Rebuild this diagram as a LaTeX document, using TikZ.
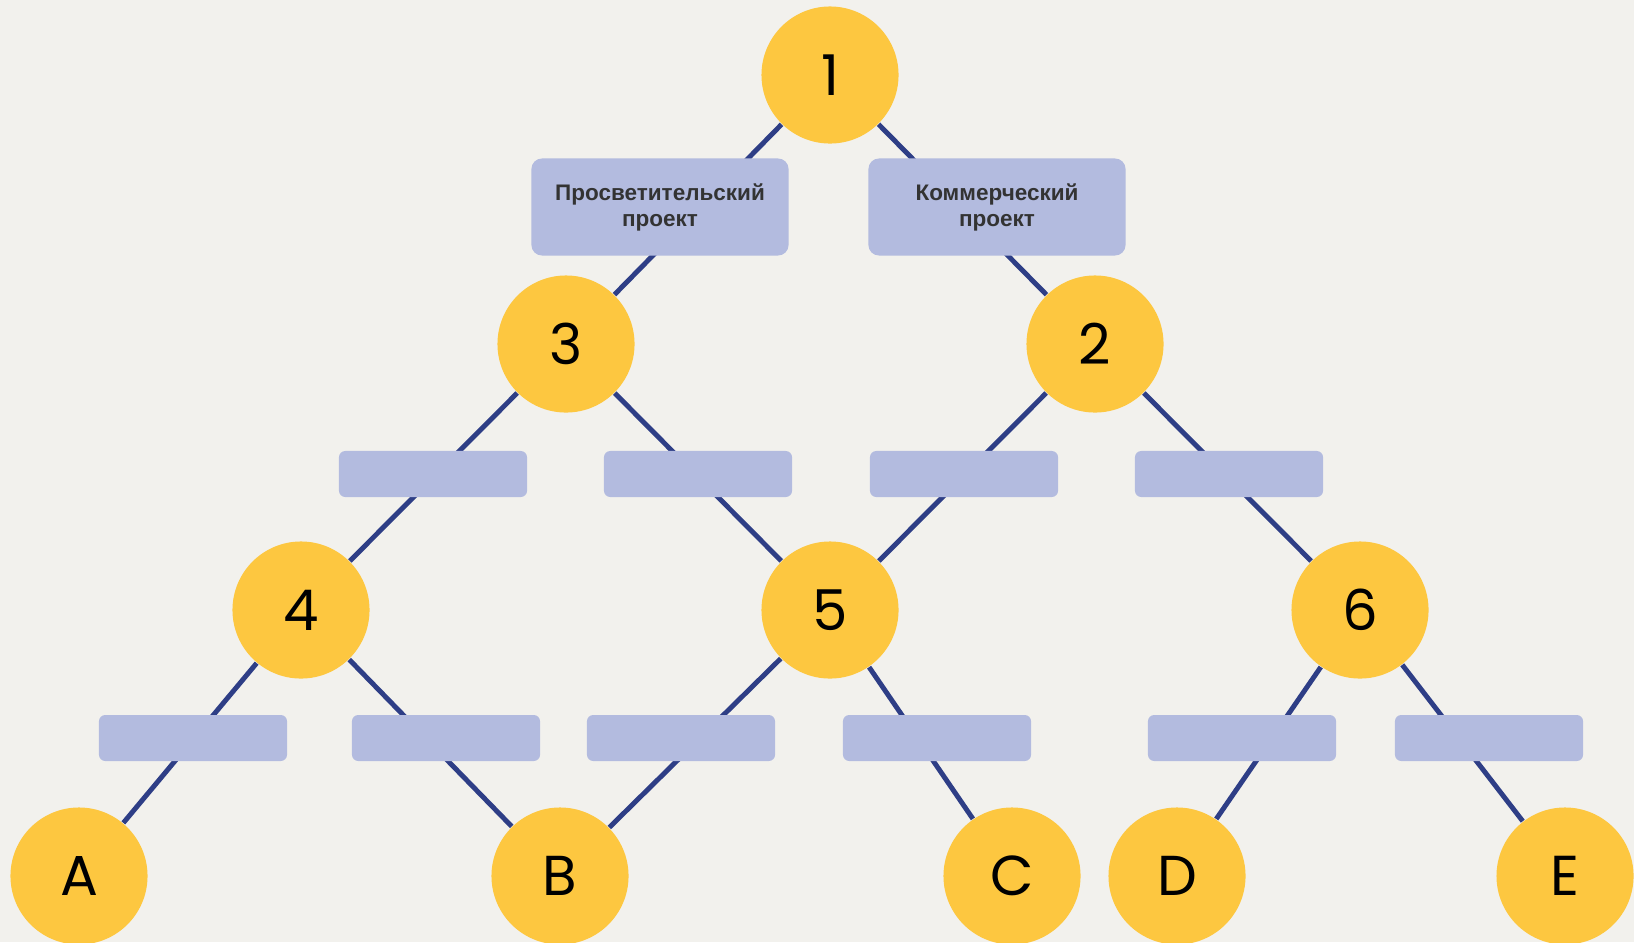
\documentclass[tikz,border=0pt]{standalone}
\usepackage{fontspec}
\setmainfont{Poppins}
\newfontfamily\labelfont{Liberation Sans}
\usetikzlibrary{positioning}
\definecolor{paper}{RGB}{242,241,237}
\definecolor{knotyellow}{RGB}{253,199,64}
\definecolor{boxblue}{RGB}{179,187,223}
\definecolor{edgenavy}{RGB}{46,62,134}
\definecolor{labelgray}{RGB}{51,51,51}

\begin{document}
\begin{tikzpicture}[x=0.01cm,y=-0.01cm,
    knot/.style={circle,fill=knotyellow,minimum size=1.37cm,inner sep=0pt,font=\fontsize{16}{16}\selectfont},
    tag/.style={rounded corners=3pt,fill=boxblue,minimum width=2.57cm,minimum height=0.97cm,align=center,text=labelgray,font=\labelfont\bfseries\fontsize{6.4}{7.4}\selectfont},
    slot/.style={rounded corners=1.8pt,fill=boxblue,minimum width=1.88cm,minimum height=0.46cm,inner sep=0pt},
    link/.style={edgenavy,line width=1.4pt}]
    % Paper
    \fill[paper] (0,0) rectangle (1634,942);
    \useasboundingbox (0,0) rectangle (1634,942);
    \clip (0,0) rectangle (1634,942);

    % Decision points
    \node[knot] (n1) at (830,75) {1};
    \node[knot] (n3) at (566,344) {3};
    \node[knot] (n2) at (1095,344) {2};
    \node[knot] (n4) at (301,610) {4};
    \node[knot] (n5) at (830,610) {5};
    \node[knot] (n6) at (1360,610) {6};

    % Outcomes
    \node[knot] (nA) at (79,876) {A};
    \node[knot] (nB) at (560,876) {B};
    \node[knot] (nC) at (1012,876) {C};
    \node[knot] (nD) at (1177,876) {D};
    \node[knot] (nE) at (1565,876) {E};

    % Links
    \draw[link] (n1) -- (n3);
    \draw[link] (n1) -- (n2);
    \draw[link] (n3) -- (n4);
    \draw[link] (n3) -- (n5);
    \draw[link] (n2) -- (n5);
    \draw[link] (n2) -- (n6);
    \draw[link] (n4) -- (nA);
    \draw[link] (n4) -- (nB);
    \draw[link] (n5) -- (nB);
    \draw[link] (n5) -- (nC);
    \draw[link] (n6) -- (nD);
    \draw[link] (n6) -- (nE);

    % First choice
    \node[tag] (edu) at (660,207) {Просветительский\\проект};
    \node[tag] (biz) at (997,207) {Коммерческий\\проект};

    % Empty choices
    \foreach \x/\name in {433/s34, 698/s35, 964/s25, 1229/s26}
        \node[slot] (\name) at (\x,474) {};
    \foreach \x/\name in {193/s4A, 446/s4B, 681/s5B, 937/s5C, 1242/s6D, 1489/s6E}
        \node[slot] (\name) at (\x,738) {};
\end{tikzpicture}
\end{document}
